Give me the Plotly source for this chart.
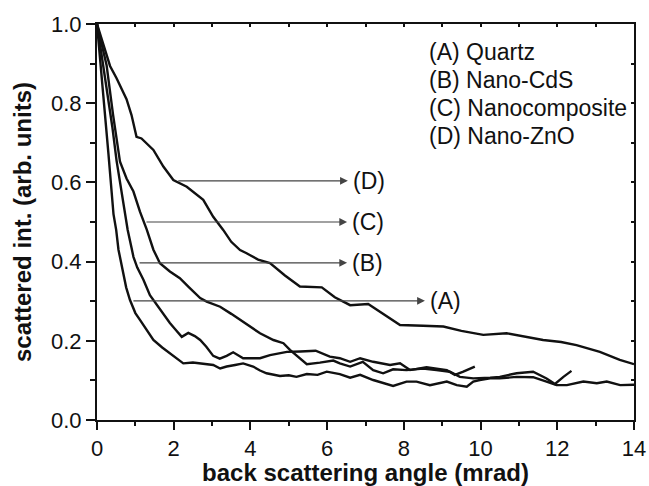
import plotly.graph_objects as go

# ---------------- data ----------------
# (A) Quartz
xa = [0, 0.15, 0.3, 0.43, 0.5, 0.56, 0.66, 0.76, 0.86, 1.0, 1.12, 1.3, 1.47, 1.7, 1.9, 2.1, 2.25,
      2.5, 2.75, 3.03, 3.21, 3.38, 3.6, 3.81, 4.07, 4.25, 4.42, 4.77, 5.0, 5.2, 5.47, 5.75, 5.99,
      6.33, 6.6, 6.86, 7.2, 7.46, 7.72, 8.07, 8.33, 8.68, 8.94, 9.12, 9.38, 9.64, 9.81, 9.98, 10.25,
      10.5, 10.94, 11.37, 11.72, 11.98, 12.25, 12.68, 13.03, 13.29, 13.64, 14.0]
ya = [1.0, 0.84, 0.67, 0.52, 0.48, 0.43, 0.38, 0.335, 0.303, 0.27, 0.253, 0.225, 0.202, 0.183, 0.168, 0.155, 0.143,
      0.145, 0.142, 0.139, 0.13, 0.135, 0.139, 0.143, 0.135, 0.125, 0.118, 0.111, 0.113, 0.109, 0.116, 0.114, 0.122,
      0.116, 0.107, 0.114, 0.101, 0.093, 0.086, 0.097, 0.097, 0.088, 0.093, 0.097, 0.088, 0.084, 0.097, 0.101, 0.105,
      0.105, 0.109, 0.108, 0.097, 0.088, 0.088, 0.097, 0.093, 0.097, 0.088, 0.089]

# (B) Nano-CdS
xb = [0, 0.2, 0.4, 0.51, 0.62, 0.73, 0.8, 0.9, 0.95, 1.05, 1.21, 1.38, 1.56, 1.75, 1.9, 2.05, 2.21,
      2.38, 2.55, 2.69, 2.85, 3.03, 3.2, 3.38, 3.55, 3.81, 4.05, 4.25, 4.51, 4.75, 4.95, 5.3, 5.7, 6.07,
      6.33, 6.6, 6.86, 7.2, 7.64, 7.9, 8.16, 8.59, 9.12, 9.33, 9.55, 9.85]
yb = [1.0, 0.87, 0.74, 0.655, 0.585, 0.52, 0.48, 0.435, 0.412, 0.385, 0.354, 0.315, 0.29, 0.265, 0.245, 0.228, 0.21,
      0.22, 0.212, 0.202, 0.185, 0.162, 0.155, 0.162, 0.171, 0.156, 0.155, 0.156, 0.164, 0.168, 0.172, 0.173, 0.175, 0.16,
      0.156, 0.147, 0.156, 0.147, 0.139, 0.143, 0.126, 0.133, 0.126, 0.114, 0.122, 0.135]

# (C) Nanocomposite
xc = [0, 0.08, 0.25, 0.42, 0.6, 0.77, 0.95, 1.12, 1.3, 1.47, 1.64, 1.9, 2.16, 2.4, 2.69, 2.86, 3.21,
      3.5, 3.73, 4.0, 4.25, 4.6, 4.86, 5.03, 5.29, 5.47, 5.81, 6.16, 6.33, 6.6, 6.93, 7.2, 7.46, 7.72,
      8.07, 8.5, 8.85, 9.2, 9.46, 9.81, 10.25, 10.5, 10.94, 11.37, 11.72, 11.94, 12.16, 12.37]
yc = [1.0, 0.964, 0.896, 0.77, 0.652, 0.61, 0.577, 0.526, 0.48, 0.43, 0.396, 0.375, 0.358, 0.335, 0.308, 0.299, 0.286,
      0.268, 0.253, 0.235, 0.219, 0.202, 0.194, 0.177, 0.156, 0.141, 0.145, 0.15, 0.143, 0.135, 0.147, 0.126, 0.118, 0.128,
      0.126, 0.13, 0.126, 0.122, 0.109, 0.105, 0.107, 0.109, 0.118, 0.122, 0.105, 0.091, 0.109, 0.124]

# (D) Nano-ZnO
xd = [0, 0.16, 0.34, 0.51, 0.77, 0.9, 1.03, 1.16, 1.3, 1.47, 1.73, 1.99, 2.34, 2.77, 3.03, 3.29, 3.5,
      3.73, 3.9, 4.2, 4.51, 4.9, 5.29, 5.86, 6.2, 6.6, 7.07, 7.5, 7.9, 8.5, 9.03, 9.5, 10.07, 10.68,
      11.2, 11.63, 12.1, 12.5, 13.11, 13.63, 14.0]
yd = [1.0, 0.947, 0.894, 0.863, 0.81, 0.77, 0.715, 0.711, 0.698, 0.682, 0.64, 0.606, 0.589, 0.556, 0.513, 0.48, 0.45,
      0.429, 0.421, 0.405, 0.396, 0.365, 0.337, 0.335, 0.31, 0.29, 0.293, 0.265, 0.24, 0.238, 0.236, 0.225, 0.215, 0.219,
      0.21, 0.202, 0.197, 0.189, 0.172, 0.152, 0.141]

# arrow annotations: label, tail x, head x, y
arrow_labels = ["(D)", "(C)", "(B)", "(A)"]
arrow_tail_x = [2.08, 1.25, 1.07, 0.91]
arrow_head_x = [6.54, 6.52, 6.52, 8.55]
arrow_y = [0.604, 0.5, 0.397, 0.301]

legend_lines = ["(A) Quartz", "(B) Nano-CdS", "(C) Nanocomposite", "(D) Nano-ZnO"]
legend_y = [0.929, 0.859, 0.788, 0.717]

x_ticks = [0, 2, 4, 6, 8, 10, 12, 14]
y_ticks = [0.0, 0.2, 0.4, 0.6, 0.8, 1.0]

FONT = "Liberation Sans, Arial, Helvetica, sans-serif"

fig = go.Figure()
for xs, ys in [(xa, ya), (xb, yb), (xc, yc), (xd, yd)]:
    fig.add_trace(go.Scatter(x=xs, y=ys, mode="lines",
                             line=dict(color="#111111", width=2.4),
                             showlegend=False, hoverinfo="skip"))

# helper trace for mirrored top/right axes
fig.add_trace(go.Scatter(x=[0], y=[0], xaxis="x2", yaxis="y2", mode="markers",
                         marker=dict(opacity=0), showlegend=False, hoverinfo="skip"))

annotations = []
for lab, tx, hx, yy in zip(arrow_labels, arrow_tail_x, arrow_head_x, arrow_y):
    annotations.append(dict(x=hx, y=yy, ax=tx, ay=yy, xref="x", yref="y", axref="x", ayref="y",
                            showarrow=True, arrowhead=2, arrowsize=1.3, arrowwidth=1.2,
                            arrowcolor="#444444", text=""))
    annotations.append(dict(x=hx, y=yy, xref="x", yref="y", text=lab, showarrow=False,
                            xanchor="left", yanchor="middle", xshift=3,
                            font=dict(family=FONT, size=23, color="#111111")))
for txt, yy in zip(legend_lines, legend_y):
    annotations.append(dict(x=8.6, y=yy, xref="x", yref="y", text=txt, showarrow=False,
                            xanchor="left", yanchor="middle",
                            font=dict(family=FONT, size=23, color="#111111")))

fig.update_layout(
    width=649, height=486,
    margin=dict(l=97, r=15, t=24, b=66),
    paper_bgcolor="white", plot_bgcolor="white",
    font=dict(family=FONT, color="#111111"),
    annotations=annotations,
    xaxis=dict(range=[0, 14], tickvals=x_ticks, ticks="outside", ticklen=8, tickwidth=1.5,
               tickcolor="#111111", showline=True, linewidth=2, linecolor="#111111",
               showgrid=False, zeroline=False, mirror=False, automargin=False,
               tickfont=dict(size=22, family=FONT, color="#111111"),
               minor=dict(dtick=1, ticks="outside", ticklen=4, tickwidth=1.5, tickcolor="#111111"),
               title=dict(text="<b>back scattering angle (mrad)</b>", standoff=7,
                          font=dict(size=24, family=FONT, color="#111111"))),
    yaxis=dict(range=[0, 1.0], tickvals=y_ticks, tickformat=".1f", ticks="outside", ticklen=9,
               tickwidth=1.5, tickcolor="#111111", showline=True, linewidth=2, linecolor="#111111",
               showgrid=False, zeroline=False, mirror=False, automargin=False,
               tickfont=dict(size=22, family=FONT, color="#111111"),
               minor=dict(dtick=0.1, ticks="outside", ticklen=5, tickwidth=1.5, tickcolor="#111111"),
               title=dict(text="<b>scattered int. (arb. units)</b>", standoff=13,
                          font=dict(size=24, family=FONT, color="#111111"))),
    xaxis2=dict(range=[0, 14], overlaying="x", side="top", dtick=1, ticks="inside", ticklen=3,
                tickwidth=1.5, tickcolor="#111111", showticklabels=False, showline=True,
                linewidth=2, linecolor="#111111", showgrid=False, zeroline=False, automargin=False),
    yaxis2=dict(range=[0, 1.0], overlaying="y", side="right", dtick=0.1, ticks="inside", ticklen=3,
                tickwidth=1.5, tickcolor="#111111", showticklabels=False, showline=True,
                linewidth=2, linecolor="#111111", showgrid=False, zeroline=False, automargin=False),
)

fig.write_html("out.html")
